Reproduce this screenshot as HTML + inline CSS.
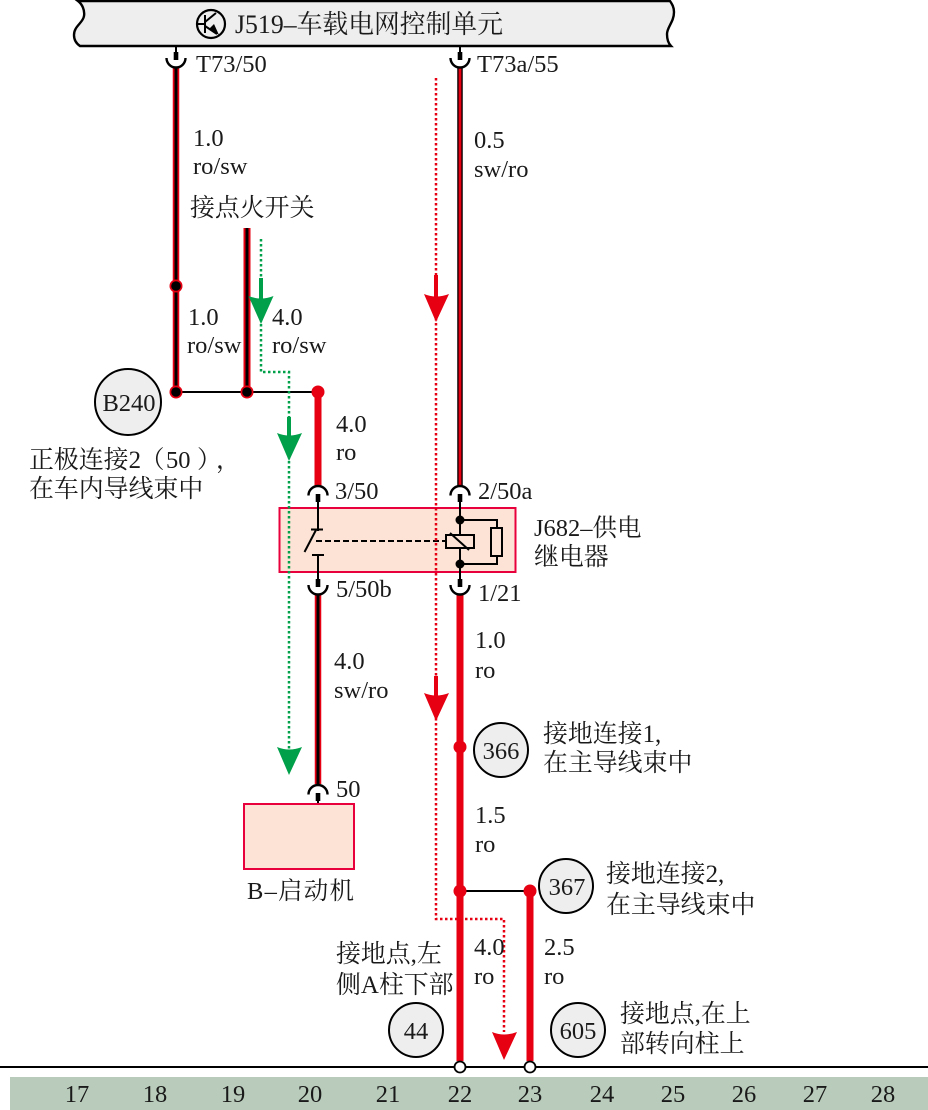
<!DOCTYPE html>
<html><head><meta charset="utf-8">
<style>
html,body{margin:0;padding:0;background:#fff}
svg{display:block}
text{font-family:"Liberation Serif","Noto Serif CJK SC",serif;font-size:24.5px;fill:#1a1a1a}
text.c{font-size:24.9px}
</style></head><body>
<svg width="928" height="1110" viewBox="0 0 928 1110" xmlns="http://www.w3.org/2000/svg">
<defs>
<g id="up"><path d="M-9.500 -10 A9.500 9.500 0 0 0 9.500 -10" fill="none" stroke="#000" stroke-width="2.400"/><rect x="-2.300" y="-16" width="4.600" height="8" fill="#000"/><rect x="-1" y="-22" width="2" height="7" fill="#000"/></g>
<g id="dn"><path d="M-9.500 9.500 A9.500 9.500 0 0 1 9.500 9.500" fill="none" stroke="#000" stroke-width="2.400"/><rect x="-2.300" y="8" width="4.600" height="8" fill="#000"/><rect x="-1" y="15" width="2" height="8" fill="#000"/></g>
</defs>

<!-- top bar -->
<path d="M78 1 C82 4 85 10 84 16 C83 23 74 26 74 35 C74 41 77 44 80 46 L671 46 C668 43 667 39 667 34 C667 27 674 22 674 12 C674 7 672 4 670 1 Z" fill="#eeeeee" stroke="#000" stroke-width="2.400"/>
<circle cx="211" cy="24" r="14" fill="none" stroke="#000" stroke-width="2.200"/>
<path d="M205 15V33M197 24H205M205 22L216 13M205 26L217 34" fill="none" stroke="#000" stroke-width="2"/>
<path d="M219 35L209 29L214 24Z" fill="#000"/>
<text x="235" y="33" textLength="268" lengthAdjust="spacingAndGlyphs" style="font-size:26px">J519–车载电网控制单元</text>

<!-- bottom band -->
<rect x="10" y="1077" width="918" height="33" fill="#b9ccbb"/>
<line x1="0" y1="1067" x2="928" y2="1067" stroke="#000" stroke-width="2"/>
<g text-anchor="middle">
<text x="77" y="1102">17</text><text x="155" y="1102">18</text><text x="233" y="1102">19</text><text x="310" y="1102">20</text><text x="388" y="1102">21</text><text x="460" y="1102">22</text><text x="530" y="1102">23</text><text x="602" y="1102">24</text><text x="673" y="1102">25</text><text x="744" y="1102">26</text><text x="815" y="1102">27</text><text x="883" y="1102">28</text>
</g>

<!-- relay box -->
<rect x="279.500" y="508" width="236" height="64" fill="#fde3d5" stroke="#e8003d" stroke-width="2"/>

<!-- wires -->
<line x1="176" y1="68" x2="176" y2="392" stroke="#e60012" stroke-width="6.500"/>
<line x1="176" y1="68" x2="176" y2="392" stroke="#000" stroke-width="3"/>
<line x1="247" y1="228" x2="247" y2="392" stroke="#e60012" stroke-width="7"/>
<line x1="247" y1="228" x2="247" y2="392" stroke="#000" stroke-width="3"/>
<line x1="176" y1="392" x2="318" y2="392" stroke="#000" stroke-width="2"/>
<line x1="318" y1="392" x2="318" y2="486" stroke="#e60012" stroke-width="7"/>
<line x1="460" y1="68" x2="460" y2="486" stroke="#000" stroke-width="5.500"/>
<line x1="460" y1="68" x2="460" y2="486" stroke="#e60012" stroke-width="2.800"/>
<line x1="318" y1="595" x2="318" y2="784" stroke="#e60012" stroke-width="6.500"/>
<line x1="318" y1="595" x2="318" y2="784" stroke="#000" stroke-width="3"/>
<line x1="460" y1="595" x2="460" y2="1061" stroke="#e60012" stroke-width="7"/>
<line x1="460" y1="891" x2="530" y2="891" stroke="#000" stroke-width="2"/>
<line x1="530" y1="891" x2="530" y2="1061" stroke="#e60012" stroke-width="7"/>

<!-- connectors -->
<use href="#up" x="176" y="68"/>
<use href="#up" x="460" y="68"/>
<use href="#dn" x="318" y="486"/>
<use href="#dn" x="460" y="486"/>
<use href="#up" x="318" y="595"/>
<use href="#up" x="460" y="595"/>
<use href="#dn" x="318" y="785"/>

<!-- relay internals -->
<g fill="none" stroke="#000" stroke-width="2">
<line x1="318" y1="505" x2="318" y2="531"/>
<line x1="304.500" y1="552" x2="316" y2="530"/>
<line x1="311" y1="529.500" x2="323" y2="529.500"/>
<line x1="312" y1="555" x2="324" y2="555"/>
<line x1="318" y1="555" x2="318" y2="574"/>
<line x1="316" y1="541" x2="446" y2="541" stroke-dasharray="6 3"/>
<line x1="460" y1="505" x2="460" y2="535"/>
<line x1="460" y1="548" x2="460" y2="575"/>
<rect x="446" y="535" width="28" height="13"/>
<line x1="450" y1="533" x2="469" y2="550"/>
<path d="M460 520H497V528M497 556V564H460"/>
<rect x="491" y="528" width="11" height="28"/>
</g>
<circle cx="460" cy="520" r="4.500" fill="#000"/>
<circle cx="460" cy="564" r="4.500" fill="#000"/>

<!-- dots -->
<g fill="#e60012">
<circle cx="176" cy="286" r="6.500"/><circle cx="176" cy="392" r="6.500"/><circle cx="247" cy="392" r="6.500"/>
<circle cx="318" cy="392" r="6.500"/><circle cx="460" cy="747" r="6.500"/><circle cx="460" cy="891" r="6.500"/><circle cx="530" cy="891" r="6.500"/>
</g>
<g fill="#000"><circle cx="176" cy="286" r="4.800"/><circle cx="176" cy="392" r="4.800"/><circle cx="247" cy="392" r="4.800"/></g>
<circle cx="460" cy="1067" r="5.500" fill="#fff" stroke="#000" stroke-width="1.800"/>
<circle cx="530" cy="1067" r="5.500" fill="#fff" stroke="#000" stroke-width="1.800"/>

<!-- green flow -->
<path d="M261 239V372H289V750" fill="none" stroke="#00a04a" stroke-width="2.500" stroke-dasharray="2.500 2.500"/>
<g fill="#00a04a">
<rect x="259" y="278" width="4" height="22"/><path d="M248.500 296Q261 301 273.500 296L261 324Z"/>
<rect x="287" y="417" width="4" height="20"/><path d="M277 433Q289 438 302 433L289 461Z"/>
<path d="M277 747Q289 752 302 747L289 775Z"/>
</g>

<!-- red flow -->
<path d="M436 78V919H504V1032" fill="none" stroke="#e60012" stroke-width="2.500" stroke-dasharray="2.500 2.500"/>
<g fill="#e60012">
<rect x="434" y="275" width="4" height="22"/><path d="M424 294Q436 299 449 294L436 322Z"/>
<rect x="434" y="676" width="4" height="20"/><path d="M424 693Q436 698 449 693L436 721Z"/>
<path d="M492 1032Q504 1037 517 1032L504 1060Z"/>
</g>

<!-- starter -->
<rect x="244" y="804" width="110" height="65" fill="#fde3d5" stroke="#e8003d" stroke-width="2"/>

<!-- circles -->
<g fill="#eeeeee" stroke="#000" stroke-width="2">
<circle cx="128" cy="402" r="33"/><circle cx="501" cy="750" r="27"/><circle cx="566" cy="886" r="27"/><circle cx="416" cy="1030" r="27"/><circle cx="578" cy="1030" r="27"/>
</g>
<g text-anchor="middle">
<text x="129" y="411">B240</text><text x="501" y="759">366</text><text x="567" y="895">367</text><text x="416" y="1039">44</text><text x="578" y="1039">605</text>
</g>

<!-- labels -->
<text x="196" y="72">T73/50</text>
<text x="477" y="72">T73a/55</text>
<text x="193" y="146">1.0</text><text x="193" y="174">ro/sw</text>
<text x="474" y="148">0.5</text><text x="474" y="177">sw/ro</text>
<text class="c" x="190" y="216">接点火开关</text>
<text x="188" y="325">1.0</text><text x="187" y="353">ro/sw</text>
<text x="272" y="325">4.0</text><text x="272" y="353">ro/sw</text>
<text x="336" y="432">4.0</text><text x="336" y="460">ro</text>
<text class="c" x="29" y="468">正极连接2</text><text x="140" y="468">（</text><text x="166" y="468">50</text><text x="197" y="468">）</text><text x="216" y="468">，</text>
<text class="c" x="29" y="497">在车内导线束中</text>
<text x="335" y="499">3/50</text>
<text x="478" y="499">2/50a</text>
<text x="534" y="536">J682–供电</text>
<text class="c" x="534" y="565">继电器</text>
<text x="336" y="597">5/50b</text>
<text x="478" y="601">1/21</text>
<text x="334" y="669">4.0</text><text x="334" y="698">sw/ro</text>
<text x="475" y="648">1.0</text><text x="475" y="678">ro</text>
<text class="c" x="543" y="742">接地连接1,</text>
<text class="c" x="543" y="771">在主导线束中</text>
<text x="336" y="797">50</text>
<text x="475" y="823">1.5</text><text x="475" y="852">ro</text>
<text class="c" x="606" y="882">接地连接2,</text>
<text class="c" x="606" y="913">在主导线束中</text>
<text x="247" y="899" textLength="107">B–启动机</text>
<text x="474" y="955">4.0</text><text x="474" y="984">ro</text>
<text x="544" y="955">2.5</text><text x="544" y="984">ro</text>
<text class="c" x="336" y="962">接地点,左</text>
<text class="c" x="336" y="993">侧A柱下部</text>
<text class="c" x="620" y="1022">接地点,在上</text>
<text class="c" x="620" y="1052">部转向柱上</text>
</svg>
</body></html>
